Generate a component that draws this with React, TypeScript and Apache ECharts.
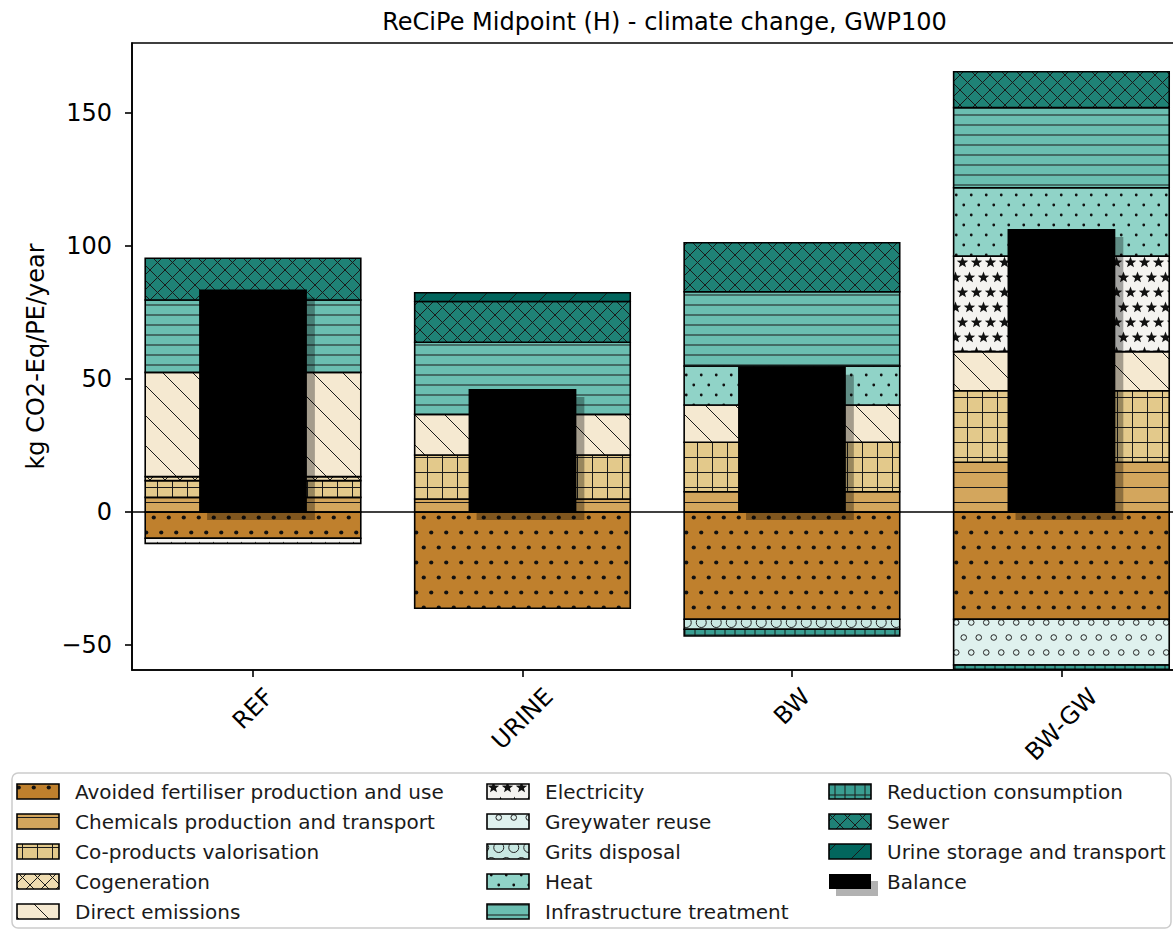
import React, { useEffect, useRef } from 'react';
import * as echarts from 'echarts';

// ---------------- data ----------------
const categories = ['REF', 'URINE', 'BW', 'BW-GW'];
const chartTitle = 'ReCiPe Midpoint (H) - climate change, GWP100';
const yAxisTitle = 'kg CO2-Eq/PE/year';
const yTicks = [-50, 0, 50, 100, 150];

const componentNames = [
  'Avoided fertiliser production and use',
  'Chemicals production and transport',
  'Co-products valorisation',
  'Cogeneration',
  'Direct emissions',
  'Electricity',
  'Greywater reuse',
  'Grits disposal',
  'Heat',
  'Infrastructure treatment',
  'Reduction consumption',
  'Sewer',
  'Urine storage and transport',
];
const balanceName = 'Balance';

// values per scenario: [REF, URINE, BW, BW-GW]
const avoidedFertiliser = [-9.9, -36.2, -40.3, -40.3];
const chemicals = [5.5, 4.9, 7.6, 18.7];
const coProducts = [6.3, 16.5, 18.6, 26.9];
const cogeneration = [1.5, 0, 0, 0];
const directEmissions = [39.2, 15.3, 14.0, 14.7];
const electricity = [-1.9, 0, 0, 35.9];
const greywaterReuse = [0, 0, 0, -17.2];
const gritsDisposal = [0, 0, -3.8, 0];
const heat = [0, 0, 14.7, 25.7];
const infrastructure = [27.2, 27.1, 27.9, 30.1];
const reductionConsumption = [0, 0, -2.5, -1.6];
const sewer = [15.7, 15.3, 18.4, 13.5];
const urineStorage = [0, 3.3, 0, 0];

const componentValues = [
  avoidedFertiliser, chemicals, coProducts, cogeneration, directEmissions,
  electricity, greywaterReuse, gritsDisposal, heat, infrastructure,
  reductionConsumption, sewer, urineStorage,
];

// ---------------- styles ----------------
const FONT = 'DejaVu Sans';
const LN = 'stroke="#1a1a1a" stroke-width="1" fill="none"';

function tile(w: number, h: number, bg: string, body: string) {
  const svg = `<svg xmlns="http://www.w3.org/2000/svg" width="${w}" height="${h}" viewBox="0 0 ${w} ${h}"><rect width="${w}" height="${h}" fill="${bg}"/>${body}</svg>`;
  return {
    image: 'data:image/svg+xml;charset=utf-8,' + encodeURIComponent(svg),
    repeat: 'repeat',
    imageWidth: w,
    imageHeight: h,
  };
}
const hLines = (s: number) => `<path d="M0 ${s / 2}H${s}" ${LN}/>`;
const gridLines = (s: number) => `<path d="M0 ${s / 2}H${s}M${s / 2} 0V${s}" ${LN}/>`;
const backLines = (s: number) =>
  `<path d="M${-s} ${-s}L${2 * s} ${2 * s}M${-s} 0L${s} ${2 * s}M0 ${-s}L${2 * s} ${s}" ${LN}/>`;
const slashLines = (s: number) =>
  `<path d="M${-s} ${2 * s}L${2 * s} ${-s}M${-s} ${s}L${s} ${-s}M0 ${2 * s}L${2 * s} 0" ${LN}/>`;
const stagger = (fn: (x: number, y: number) => string, sx: number, sy: number) => {
  // two rows per tile, second row offset by half a step
  let out = '';
  for (const [x, y] of [[sx / 4, sy / 4], [sx * 3 / 4, sy * 3 / 4], [sx / 4 + sx, sy / 4], [sx * 3 / 4 - sx, sy * 3 / 4]]) {
    out += fn(x, y);
  }
  return out;
};
const dot = (r: number) => (x: number, y: number) => `<circle cx="${x}" cy="${y}" r="${r}" fill="#111"/>`;
const ring = (r: number) => (x: number, y: number) => `<circle cx="${x}" cy="${y}" r="${r}" fill="none" stroke="#222" stroke-width="1"/>`;
const star = (R: number) => (x: number, y: number) => {
  const pts: string[] = [];
  for (let i = 0; i < 10; i++) {
    const rr = i % 2 === 0 ? R : R * 0.42;
    const a = -Math.PI / 2 + (i * Math.PI) / 5;
    pts.push(`${(x + rr * Math.cos(a)).toFixed(2)},${(y + rr * Math.sin(a)).toFixed(2)}`);
  }
  return `<polygon points="${pts.join(' ')}" fill="#111"/>`;
};

const fills = [
  tile(15, 30, '#bf802d', stagger(dot(2.1), 15, 30)),                 // Avoided fertiliser
  tile(15, 15, '#d3a65d', hLines(15)),                                // Chemicals
  tile(15, 15, '#e3c98b', gridLines(15)),                             // Co-products
  tile(15, 15, '#efdcb0', backLines(15) + slashLines(15)),            // Cogeneration
  tile(30, 30, '#f5e9d1', backLines(30)),                             // Direct emissions
  tile(14, 30, '#f4f3f0', stagger(star(6), 14, 30)),                  // Electricity
  tile(15, 30, '#dff1ee', stagger(ring(2.8), 15, 30)),                // Greywater reuse
  tile(15, 30, '#c8e8e2', stagger(ring(5), 15, 30)),                  // Grits disposal
  tile(15, 20, '#90d3c7', stagger(dot(1.4), 15, 20)),                 // Heat
  tile(10, 10, '#6bbeb1', hLines(10)),                                // Infrastructure
  tile(10, 10, '#3a9e92', gridLines(10)),                             // Reduction consumption
  tile(15, 15, '#1f8276', backLines(15) + slashLines(15)),            // Sewer
  tile(30, 30, '#02665d', slashLines(30)),                            // Urine storage
];

// ---------------- layout constants ----------------
const GRID_LEFT = 132;
const GRID_TOP = 43;
const GRID_W = 1055;
const GRID_H = 627;
const X_MIN = -0.449;
const X_MAX = 3.466;
const Y_MIN = -59.4;
const Y_MAX = 176.3;
const BAR_HALF = 0.4;
const BAL_HALF = 0.2;

export default function App() {
  const ref = useRef<HTMLDivElement>(null);

  useEffect(() => {
    if (!ref.current) return;
    const chart = echarts.init(ref.current, undefined, { renderer: 'svg' });

    // stacking (positives upward, negatives downward, in legend order)
    const posBase = categories.map(() => 0);
    const negBase = categories.map(() => 0);
    const stacked = componentValues.map((vals) => {
      const out: number[][] = [];
      vals.forEach((v, j) => {
        if (v > 0) {
          out.push([j, posBase[j], posBase[j] + v]);
          posBase[j] += v;
        } else if (v < 0) {
          out.push([j, negBase[j] + v, negBase[j]]);
          negBase[j] += v;
        }
      });
      return out;
    });
    const balance = categories.map((_, j) => [j, posBase[j] + negBase[j]]);

    const series: any[] = componentNames.map((name, i) => ({
      name,
      type: 'custom',
      z: 2,
      clip: true,
      encode: { x: 0, y: [1, 2] },
      data: stacked[i],
      renderItem: (params: any, api: any) => {
        const x = api.value(0);
        const p0 = api.coord([x - BAR_HALF, api.value(2)]);
        const p1 = api.coord([x + BAR_HALF, api.value(1)]);
        return {
          type: 'rect',
          shape: { x: p0[0], y: p0[1], width: p1[0] - p0[0], height: p1[1] - p0[1] },
          style: { fill: fills[i], stroke: '#000', lineWidth: 1.6 },
        };
      },
    }));

    series.push({
      name: balanceName,
      type: 'custom',
      z: 3,
      clip: true,
      encode: { x: 0, y: 1 },
      data: balance,
      renderItem: (params: any, api: any) => {
        const x = api.value(0);
        const v = api.value(1);
        const a = api.coord([x - BAL_HALF, Math.max(v, 0)]);
        const b = api.coord([x + BAL_HALF, Math.min(v, 0)]);
        const w = b[0] - a[0];
        const h = b[1] - a[1];
        return {
          type: 'group',
          children: [
            { type: 'rect', shape: { x: a[0] + 8, y: a[1] + 8, width: w, height: h }, style: { fill: 'rgba(0,0,0,0.33)' } },
            { type: 'rect', shape: { x: a[0], y: a[1], width: w, height: h }, style: { fill: '#000' } },
          ],
        };
      },
    });

    series.push({
      name: 'zero',
      type: 'line',
      z: 5,
      symbol: 'none',
      silent: true,
      lineStyle: { color: '#000', width: 1.6 },
      data: [[X_MIN, 0], [X_MAX, 0]],
    });

    // x label centring (matplotlib-like rotation about the label centre)
    const fs = 24;
    const measure = (t: string) => {
      const c = document.createElement('canvas').getContext('2d')!;
      c.font = `${fs}px "${FONT}"`;
      return c.measureText(t).width;
    };
    const centres = categories.map((c) => (measure(c) + fs) / (2 * Math.SQRT2));
    const minC = Math.min(...centres);
    const rich: any = {};
    categories.forEach((c, i) => {
      const d = (centres[i] - minC) * Math.SQRT2;
      rich['c' + i] = { fontSize: fs, fontFamily: FONT, color: '#000', lineHeight: fs, padding: [d, d, 0, 0] };
    });

    // legend drawn as graphics
    const legendEls: any[] = [];
    legendEls.push({
      type: 'rect',
      shape: { x: 12, y: 773, width: 1159, height: 155, r: 6 },
      style: { fill: 'rgba(255,255,255,0.85)', stroke: '#cccccc', lineWidth: 1.5 },
      z: 10,
    });
    const colX = [17, 487, 829];
    const rowY = [784, 814, 844, 874, 904];
    const legendNames = [...componentNames, balanceName];
    legendNames.forEach((name, k) => {
      const col = Math.floor(k / 5);
      const row = k % 5;
      const x = colX[col];
      const y = rowY[row];
      if (name === balanceName) {
        legendEls.push({ type: 'rect', shape: { x: x + 7, y: y + 7, width: 42, height: 15 }, style: { fill: 'rgba(0,0,0,0.3)' }, z: 11 });
        legendEls.push({ type: 'rect', shape: { x, y, width: 42, height: 15 }, style: { fill: '#000' }, z: 12 });
      } else {
        legendEls.push({
          type: 'rect',
          shape: { x, y, width: 42, height: 15 },
          style: { fill: fills[k], stroke: '#000', lineWidth: 1.6 },
          z: 11,
        });
      }
      legendEls.push({
        type: 'text',
        x: x + 58,
        y: y + 7.5,
        z: 12,
        style: { text: name, fontSize: 20, fontFamily: FONT, fill: '#1a1a1a', verticalAlign: 'middle', align: 'left' },
      });
    });

    chart.setOption({
      animation: false,
      backgroundColor: '#ffffff',
      textStyle: { fontFamily: FONT },
      title: {
        text: chartTitle,
        left: GRID_LEFT + GRID_W / 2,
        textAlign: 'center',
        top: 5,
        textStyle: { fontSize: 24, fontWeight: 'normal', color: '#000', fontFamily: FONT },
      },
      grid: {
        left: GRID_LEFT,
        top: GRID_TOP,
        width: GRID_W,
        height: GRID_H,
        show: true,
        borderColor: '#000',
        borderWidth: 1.6,
        backgroundColor: 'transparent',
        containLabel: false,
        outerBoundsMode: 'none',
      },
      xAxis: {
        type: 'value',
        min: X_MIN,
        max: X_MAX,
        splitLine: { show: false },
        axisLine: { show: true, onZero: false, lineStyle: { color: '#000', width: 1.6 } },
        axisTick: { show: true, length: 7, customValues: [0, 1, 2, 3], lineStyle: { color: '#000', width: 1.6 } },
        axisLabel: {
          show: true,
          customValues: [0, 1, 2, 3],
          rotate: 45,
          align: 'center',
          verticalAlign: 'middle',
          margin: 14 + minC,
          formatter: (v: number) => {
            const i = Math.round(v);
            return `{c${i}|${categories[i]}}`;
          },
          rich,
        },
      },
      yAxis: {
        type: 'value',
        min: Y_MIN,
        max: Y_MAX,
        name: yAxisTitle,
        nameLocation: 'middle',
        nameRotate: 90,
        nameGap: 84,
        nameTextStyle: { fontSize: 24, color: '#000', fontFamily: FONT },
        splitLine: { show: false },
        axisLine: { show: true, onZero: false, lineStyle: { color: '#000', width: 1.6 } },
        axisTick: { show: true, length: 7, customValues: yTicks, lineStyle: { color: '#000', width: 1.6 } },
        axisLabel: {
          show: true,
          customValues: yTicks,
          margin: 20,
          fontSize: 24,
          color: '#000',
          fontFamily: FONT,
          formatter: (v: number) => String(v).replace('-', '\u2212'),
        },
      },
      graphic: { elements: legendEls },
      series,
    });

    return () => chart.dispose();
  }, []);

  return (
    <div
      ref={ref}
      style={{ position: 'absolute', left: 0, top: 0, width: 1173, height: 931, background: '#fff' }}
    />
  );
}
